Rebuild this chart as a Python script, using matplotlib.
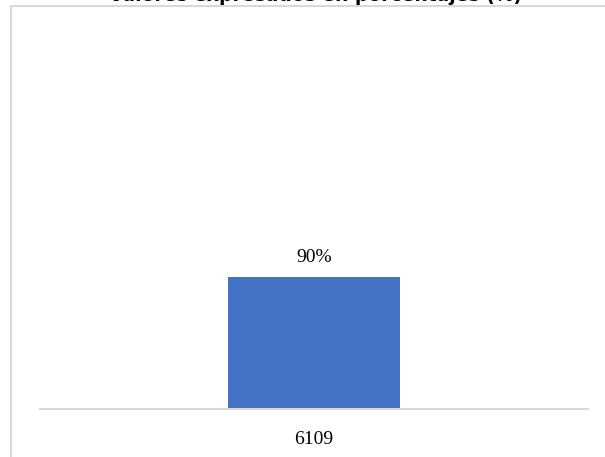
import matplotlib.pyplot as plt
from matplotlib.patches import Rectangle

# data
categories = ['6109']
values = [90]
labels = ['90%']
title = 'Valores expresados en porcentajes (%)'

W, H = 605, 457
fig = plt.figure(figsize=(W / 100, H / 100), dpi=100)

# chart-area border (only top and left visible, rest cropped)
fig.patches.append(Rectangle((11 / W, -0.1), 1.2, (H - 6) / H + 0.1,
                             transform=fig.transFigure, fill=False,
                             edgecolor='#d9d9d9', linewidth=1.5))

ax = fig.add_axes([40 / W, (H - 409) / H, 548 / W, 147 / H])
bars = ax.bar(range(len(categories)), values, width=0.314, color='#4472C4')
ax.set_xlim(-0.5, 0.5)
ax.set_ylim(0, 100)

ax.bar_label(bars, labels=labels, padding=8, fontsize=14,
             family='Liberation Serif')

ax.set_xticks(range(len(categories)))
ax.set_xticklabels(categories, fontsize=14, family='Liberation Serif')
ax.tick_params(axis='x', length=0, pad=16)
ax.set_yticks([])
for s in ['top', 'right', 'left']:
    ax.spines[s].set_visible(False)
ax.spines['bottom'].set_color('#d9d9d9')
ax.spines['bottom'].set_linewidth(1.5)
ax.patch.set_visible(False)

fig.text(316 / W, 1 - 5 / H, title, ha='center', va='bottom',
         fontsize=13.5, fontweight='bold')

fig.savefig('out.png', dpi=100)
